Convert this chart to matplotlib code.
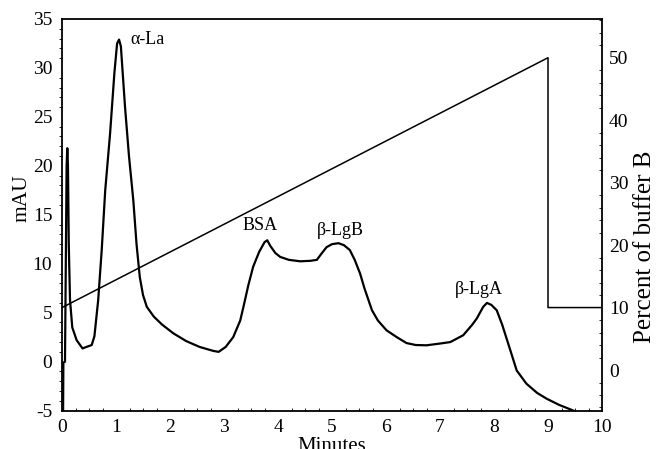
import numpy as np
import matplotlib.pyplot as plt
from matplotlib.ticker import MultipleLocator

plt.rcParams['font.family'] = ['Liberation Serif', 'DejaVu Serif']
plt.rcParams['axes.unicode_minus'] = False

# UV trace (mAU) against retention time
time_min = [0.02, 0.025, 0.055, 0.07, 0.085, 0.098, 0.11, 0.125, 0.148, 0.19,
            0.27, 0.38, 0.45, 0.55, 0.6, 0.67, 0.735, 0.8, 0.89, 0.97,
            1.02, 1.056, 1.09, 1.167, 1.24, 1.32, 1.38, 1.44, 1.5, 1.57,
            1.7, 1.85, 2.06, 2.3, 2.55, 2.8, 2.9, 3.03, 3.17, 3.3,
            3.36, 3.45, 3.54, 3.65, 3.75, 3.8, 3.86, 3.95, 4.04, 4.2,
            4.41, 4.6, 4.72, 4.8, 4.9, 5.0, 5.12, 5.22, 5.33, 5.42,
            5.52, 5.6, 5.74, 5.85, 6.01, 6.2, 6.38, 6.55, 6.75, 7.0,
            7.19, 7.43, 7.6, 7.68, 7.8, 7.87, 7.95, 8.05, 8.15, 8.3,
            8.42, 8.6, 8.8, 8.98, 9.2, 9.47]
mau = [-5, -0.1, 0, 10, 20, 21.8, 20, 12, 6.3, 3.5,
       2.2, 1.35, 1.5, 1.7, 2.6, 6.3, 11.4, 17.5, 23.3, 29.5,
       32.5, 32.9, 32.2, 26, 21, 16.5, 12, 8.65, 6.8, 5.6,
       4.6, 3.8, 2.9, 2.1, 1.5, 1.1, 1.0, 1.5, 2.5, 4.2,
       5.6, 7.8, 9.7, 11.2, 12.2, 12.4, 11.8, 11.1, 10.7, 10.4,
       10.25, 10.3, 10.4, 11.0, 11.7, 12.0, 12.1, 11.9, 11.4, 10.4,
       9.0, 7.5, 5.25, 4.2, 3.2, 2.5, 1.9, 1.7, 1.67, 1.85,
       2.0, 2.7, 3.8, 4.4, 5.6, 6.0, 5.8, 5.25, 3.8, 1.2,
       -0.9, -2.25, -3.2, -3.8, -4.4, -5]

# gradient program (% buffer B)
grad_time = [0, 9, 9, 10]
grad_pct = [10, 50, 10, 10]

# peak labels
peak_names = ['\u03b1-La', 'BSA', '\u03b2-LgB', '\u03b2-LgA']
peak_pos = [(1.59, 32.9), (3.66, 13.9), (5.16, 13.4), (7.72, 7.4)]

fig = plt.figure(figsize=(6.57, 4.49), dpi=100)
ax = fig.add_axes([0.0944, 0.0855, 0.8219, 0.8722])
ax2 = ax.twinx()

ax.plot(time_min, mau, color='black', lw=1.6, solid_joinstyle='round')
ax2.plot(grad_time, grad_pct, color='black', lw=1.1)

ax.set_xlim(0, 10)
ax.set_ylim(-5, 35)
ax2.set_ylim(-6.5, 56.2)

ax.xaxis.set_major_locator(MultipleLocator(1))
ax.xaxis.set_minor_locator(MultipleLocator(0.25))
ax.yaxis.set_major_locator(MultipleLocator(5))
ax.yaxis.set_minor_locator(MultipleLocator(1))
ax2.yaxis.set_major_locator(MultipleLocator(10))
ax2.yaxis.set_minor_locator(MultipleLocator(2))

for spine in ['left', 'top', 'bottom']:
    ax2.spines[spine].set_visible(False)
ax.spines['right'].set_visible(False)
for sp in list(ax.spines.values()) + [ax2.spines['right']]:
    sp.set_linewidth(1.3)

# white major ticks leave small gaps in the frame
ax.tick_params(which='major', top=True, right=False, direction='inout',
               color='white', width=2.5, length=4, labelsize=14, labelcolor='black')
ax.tick_params(axis='x', which='major', pad=4)
ax.tick_params(axis='y', which='major', pad=5)
ax.tick_params(axis='x', which='minor', top=False, direction='in',
               color='black', width=0.6, length=2)
ax.tick_params(axis='y', which='minor', right=False, direction='out',
               color='black', width=0.6, length=2)
ax2.tick_params(which='major', direction='inout', color='white', width=2.5,
                length=4, labelsize=14, pad=3)
ax2.tick_params(which='minor', direction='in', color='black', width=0.6, length=2)

for name, (tx, ty) in zip(peak_names, peak_pos):
    ax.text(tx, ty, name, fontsize=13, ha='center', va='center')

fig.text(0.034, 0.558, 'mAU', rotation=90, fontsize=15.5, ha='center', va='center')
fig.text(0.981, 0.45, 'Percent of buffer B', rotation=90, fontsize=18,
         ha='center', va='center')
fig.text(0.505, 1 - 437 / 449, 'Minutes', fontsize=15, ha='center', va='top')

fig.savefig('out.png', dpi=100)
